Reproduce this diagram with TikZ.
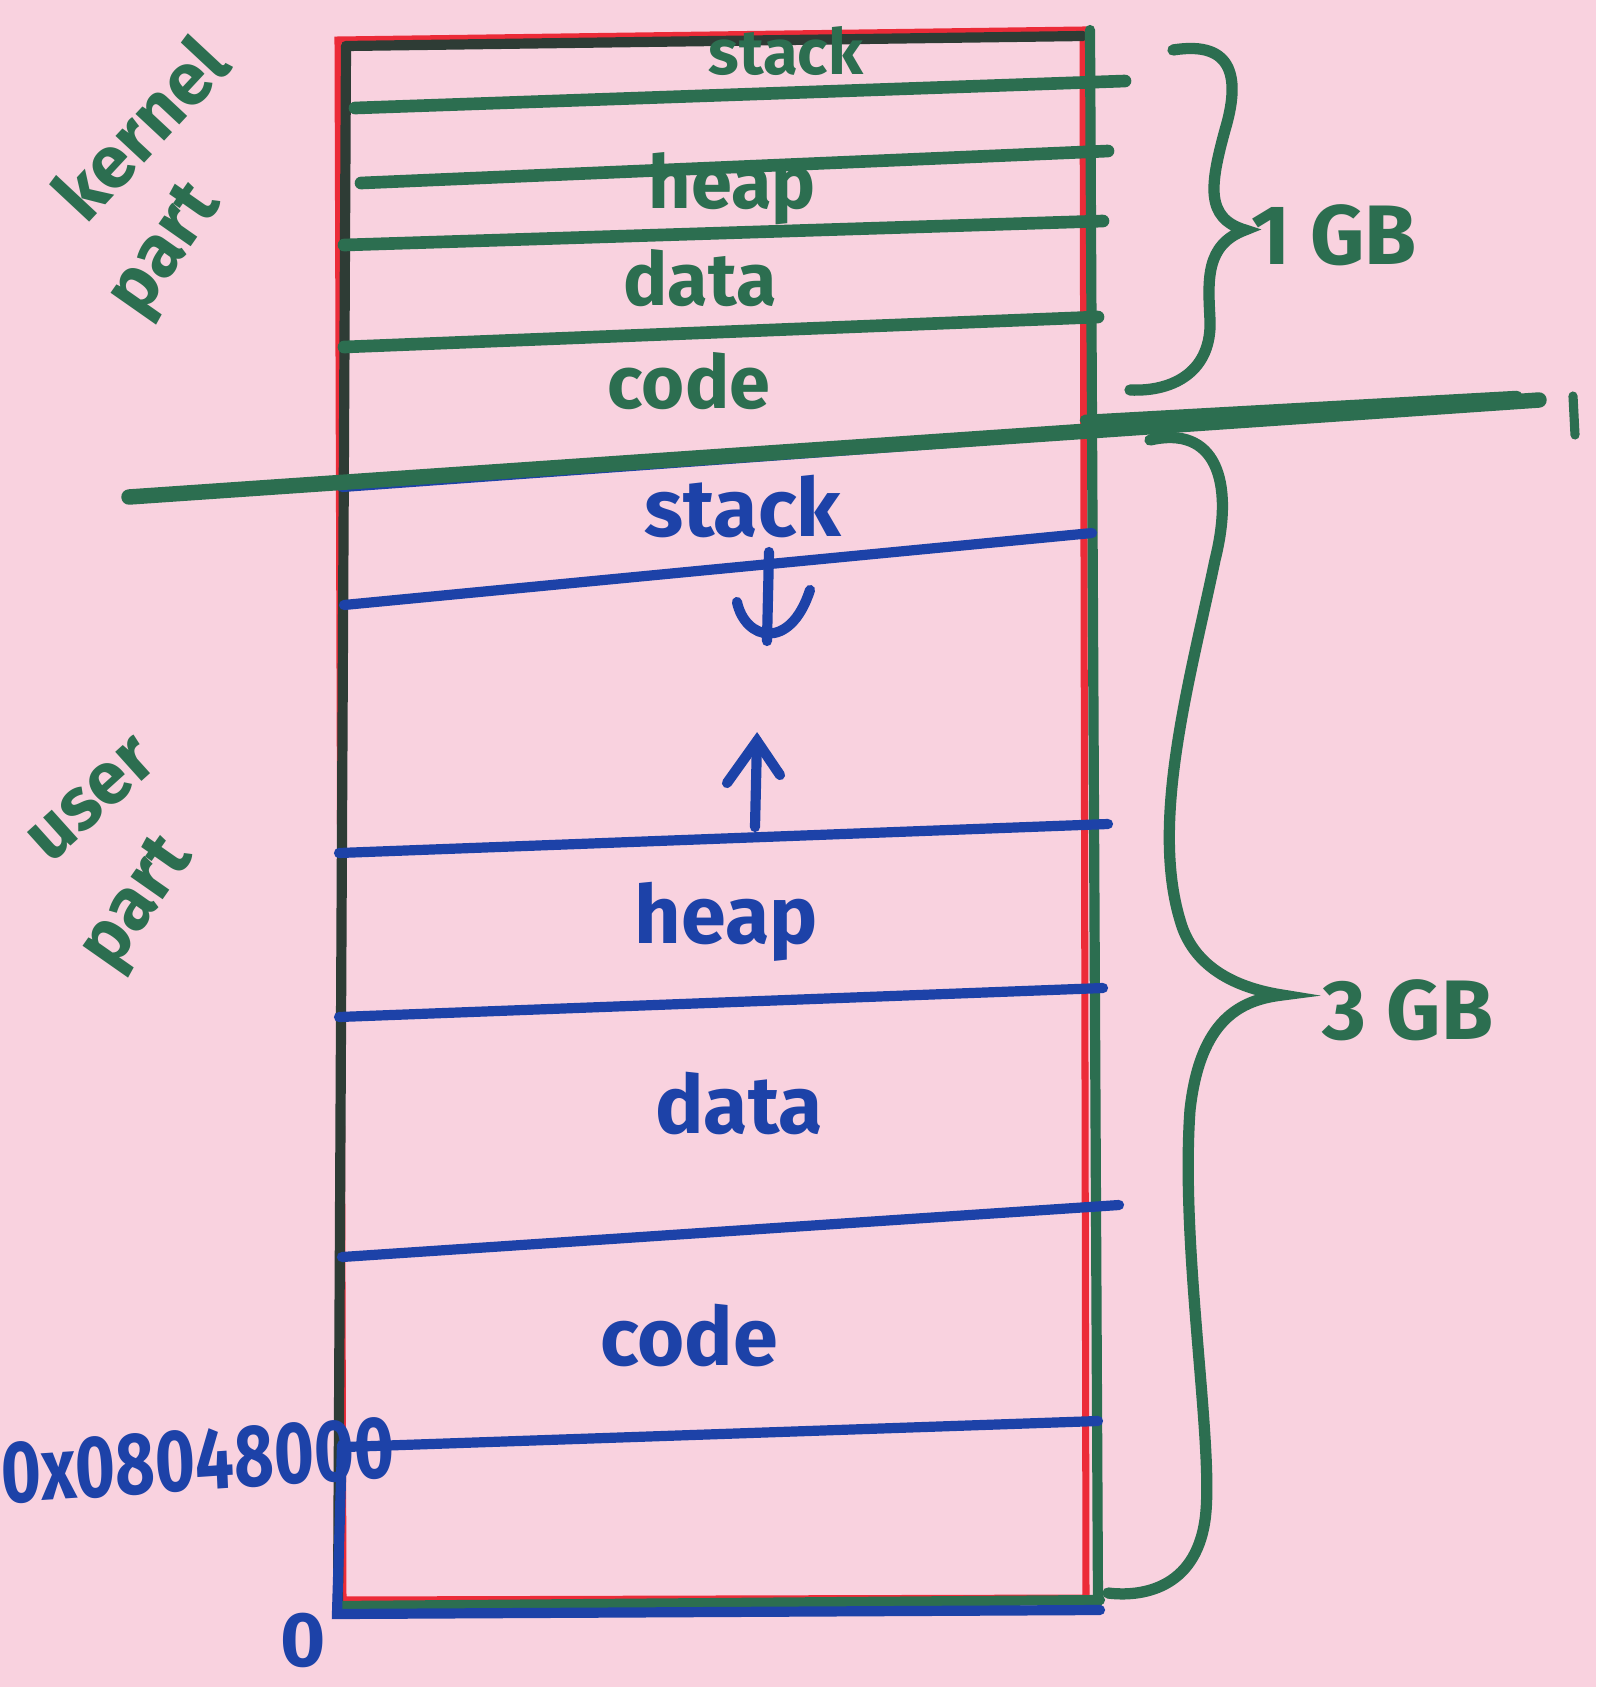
\documentclass[tikz,border=0pt]{standalone}
\usepackage{fontspec}
\setmainfont{Fira Sans}
\definecolor{cPaper}{HTML}{F9D2DF}
\definecolor{cKern}{HTML}{2C6E50}
\definecolor{cUser}{HTML}{1D42A8}
\definecolor{cRule}{HTML}{EC2B38}
\definecolor{cEdge}{HTML}{2E3C35}
\newcommand{\cutline}[5]{\draw[#5] (#1,#2) -- (#3,#4);}

\begin{document}
\begin{tikzpicture}[x=0.01cm, y=-0.01cm,
  kpen/.style={draw=cKern, line width=3.6pt, line cap=round},
  upen/.style={draw=cUser, line width=2.9pt, line cap=round},
  edge/.style={draw=cEdge, line width=2.9pt, line cap=round},
  klabel/.style={text=cKern, font=\bfseries\fontsize{21}{24}\selectfont, inner sep=0pt, anchor=base},
  ulabel/.style={text=cUser, font=\bfseries\fontsize{23}{26}\selectfont, inner sep=0pt, anchor=base},
  side/.style={text=cKern, font=\bfseries\fontsize{21}{24}\selectfont, inner sep=0pt},
  size/.style={text=cKern, font=\bfseries\fontsize{24}{28}\selectfont, inner sep=0pt, anchor=base}]
\useasboundingbox (0,0) rectangle (1596,1687);
\fill[cPaper] (0,0) rectangle (1596,1687);
% ---- the address space box: red under, dark marker over --------------------------------------
\draw[cRule, line width=2pt] (338,40) -- (1083,30) -- (1086,1598) -- (343,1600) -- cycle;
\draw[edge] (346,46) -- (1083,36);
\draw[edge] (346,46) -- (338,1612);
\draw[kpen, line width=2.9pt] (1090,30) -- (1098,1602);
\draw[kpen, line width=2.9pt] (340,1606) -- (1100,1600);
\draw[upen] (342,1445) -- (337,1614) -- (1100,1610);
% ---- kernel part (top 1GB) ---------------------------------------------------------------------
\cutline{355}{108}{1125}{81}{kpen}
\cutline{361}{183}{1108}{151}{kpen}
\cutline{344}{245}{1103}{221}{kpen}
\cutline{344}{347}{1098}{317}{kpen}
\node[klabel, font=\bfseries\fontsize{18}{20}\selectfont] (kstack) at (786,74) {stack};
\node[klabel] (kheap) at (732,208) {heap};
\node[klabel] (kdata) at (700,305) {data};
\node[klabel] (kcode) at (689,408) {code};
% ---- the split between kernel and user ---------------------------------------------------------
\cutline{342}{487}{1085}{433}{upen}
\cutline{129}{497}{1539}{400}{kpen, line width=4.4pt}
\cutline{1085}{420}{1517}{396}{kpen, line width=3pt}
\draw[kpen, line width=2.6pt] (1573,396) -- (1575,435);
% ---- user part (bottom 3GB) --------------------------------------------------------------------
\cutline{344}{605}{1092}{533}{upen}
\cutline{339}{853}{1108}{824}{upen}
\cutline{339}{1017}{1103}{988}{upen}
\cutline{342}{1257}{1119}{1205}{upen}
\cutline{344}{1447}{1098}{1421}{upen}
\node[ulabel] (ustack) at (743,536) {stack};
\node[ulabel] (uheap) at (726,943) {heap};
\node[ulabel] (udata) at (739,1133) {data};
\node[ulabel] (ucode) at (689,1365) {code};
% stack grows down, heap grows up
\coordinate (dtop) at (769,552);
\coordinate (dtip) at (767,641);
\draw[upen] (dtop) -- (dtip);
\draw[upen] (737,602) .. controls (745,640) and (790,652) .. (810,590);
\coordinate (utop) at (757,741);
\coordinate (ubot) at (755,827);
\draw[upen] (ubot) -- (utop);
\draw[upen] (727,783) -- (utop) -- (780,775);
% ---- addresses -------------------------------------------------------------------------------
\node[ulabel, font=\bfseries\fontsize{25}{28}\selectfont, xscale=0.78, rotate=3] (addr) at (199,1490) {0x08048000};
\node[ulabel, font=\bfseries\fontsize{22}{24}\selectfont] (zero) at (303,1666) {0};
% ---- braces and sizes ------------------------------------------------------------------------
\draw[kpen, line width=3.2pt] (1173,50) .. controls (1235,40) and (1240,80) .. (1225,130)
  .. controls (1210,185) and (1205,218) .. (1245,230)
  .. controls (1205,245) and (1208,280) .. (1210,320)
  .. controls (1212,370) and (1175,392) .. (1130,390);
\node[size] (kgb) at (1334,264) {1 GB};
\draw[kpen, line width=3.2pt] (1150,440) .. controls (1215,425) and (1235,480) .. (1215,560)
  .. controls (1190,680) and (1150,820) .. (1180,920)
  .. controls (1195,975) and (1250,990) .. (1282,995)
  .. controls (1240,1000) and (1200,1020) .. (1190,1110)
  .. controls (1180,1250) and (1215,1450) .. (1205,1520)
  .. controls (1195,1590) and (1140,1597) .. (1108,1593);
\node[size] (ugb) at (1408,1039) {3 GB};
% ---- side notes ------------------------------------------------------------------------------
\node[side, rotate=47] (kname) at (140,128) {kernel};
\node[side, rotate=55] (kpart) at (168,252) {part};
\node[side, rotate=42] (uname) at (92,800) {user};
\node[side, rotate=55] (upart) at (140,905) {part};
\end{tikzpicture}
\end{document}
